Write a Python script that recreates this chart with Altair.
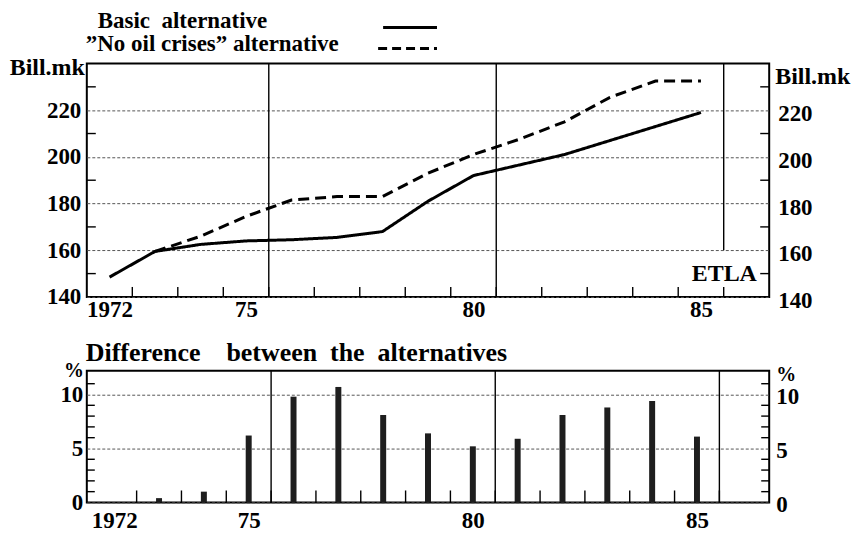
import altair as alt
import pandas as pd

# ---------------- data ----------------
years = list(range(1972, 1986))
basic = [148.5, 159.5, 162.5, 164.0, 164.5, 165.5, 168.0, 181.0, 192.0, 196.5, 201.0, 207.0, 213.0, 219.0]
no_oil_years = list(range(1973, 1986))
no_oil = [159.5, 166.0, 174.5, 181.5, 183.0, 183.0, 193.0, 201.0, 207.5, 215.0, 225.5, 232.5, 232.5]
diff_years = list(range(1973, 1986))
diff = [0.4, 1.0, 6.2, 9.8, 10.7, 8.1, 6.4, 5.2, 5.9, 8.1, 8.8, 9.4, 6.1]

x_labels = [1972, 1975, 1980, 1985]
half_years = [1972.5 + i for i in range(14)]
vline_x = [1975.5, 1980.5, 1985.5]
vline_bottom_top = [140, 140, 160]

top_ticks = [140, 160, 180, 200, 220]
top_minor = [150, 170, 190, 210, 230]
bot_ticks = [0, 5, 10]
bot_minor = [1, 2, 3, 4, 6, 7, 8, 9, 11]

FONT = "Liberation Serif"
W = 684
H1 = 234
H2 = 132

xscale = alt.Scale(domain=[1971.5, 1986.5], nice=False, zero=False)
y1 = alt.Scale(domain=[140, 240], nice=False, zero=False)
y2 = alt.Scale(domain=[0, 12.2], nice=False, zero=False)

label_expr = "datum.value == 1972 ? '1972' : substring(toString(datum.value), 2, 4)"


def xaxis(pad):
    return alt.Axis(values=x_labels, labelExpr=label_expr, grid=False, ticks=False, tickSize=0,
                    domain=False, labelFont=FONT, labelFontSize=23, labelFontWeight="bold",
                    labelColor="black", labelPadding=pad, title=None, labelFlush=False)


def yaxis(vals, pad):
    return alt.Axis(values=vals, grid=True, gridColor="#555555", gridDash=[3, 2], gridWidth=1,
                    ticks=False, tickSize=0, domain=False, labelFont=FONT, labelFontSize=23,
                    labelFontWeight="bold", labelColor="black", labelPadding=pad, title=None,
                    labelFlush=False)


XA1 = xaxis(2)
YA1 = yaxis(top_ticks, 6)
XA2 = xaxis(7)
YA2 = yaxis(bot_ticks, 4)


def txt(text, x, y, size=24, align="left", baseline="alphabetic"):
    return alt.Chart(pd.DataFrame({"t": [text]})).mark_text(
        align=align, baseline=baseline, font=FONT, fontSize=size, fontWeight="bold", color="black"
    ).encode(x=alt.value(x), y=alt.value(y), text="t:N")


one = pd.DataFrame({"k": [0]})

# ---------------- top panel ----------------
lines_df = pd.DataFrame({
    "year": years + no_oil_years,
    "value": basic + no_oil,
    "series": ["Basic"] * len(years) + ["No oil"] * len(no_oil_years),
})

lines = alt.Chart(lines_df).mark_line(color="black", strokeWidth=3).encode(
    x=alt.X("year:Q", scale=xscale, axis=XA1),
    y=alt.Y("value:Q", scale=y1, axis=YA1),
    strokeDash=alt.StrokeDash("series:N", scale=alt.Scale(domain=["Basic", "No oil"],
                                                          range=[[1, 0], [11, 6]]), legend=None),
)

vrules1 = alt.Chart(pd.DataFrame({"year": vline_x, "value": [240] * 3, "y2": vline_bottom_top})).mark_rule(
    color="black", strokeWidth=1.4).encode(
    x=alt.X("year:Q", scale=xscale, axis=XA1),
    y=alt.Y("value:Q", scale=y1, axis=YA1), y2="y2:Q")

hticks1 = alt.Chart(pd.DataFrame({"year": half_years})).mark_rule(color="black", strokeWidth=1.4).encode(
    x=alt.X("year:Q", scale=xscale, axis=XA1), y=alt.value(H1), y2=alt.value(H1 - 10))

lminor1 = alt.Chart(pd.DataFrame({"value": top_minor})).mark_rule(color="black", strokeWidth=1.4).encode(
    y=alt.Y("value:Q", scale=y1, axis=YA1), x=alt.value(0), x2=alt.value(9))
rminor1 = alt.Chart(pd.DataFrame({"value": top_minor})).mark_rule(color="black", strokeWidth=1.4).encode(
    y=alt.Y("value:Q", scale=y1, axis=YA1), x=alt.value(W - 9), x2=alt.value(W))

rlabels1 = alt.Chart(pd.DataFrame({"value": top_ticks})).mark_text(
    align="left", baseline="middle", dy=4, font=FONT, fontSize=23, fontWeight="bold", color="black"
).encode(y=alt.Y("value:Q", scale=y1, axis=YA1), x=alt.value(W + 9), text=alt.Text("value:Q"))

leg_solid = alt.Chart(one).mark_rule(color="black", strokeWidth=3).encode(
    x=alt.value(297), x2=alt.value(351), y=alt.value(-36))
leg_dash = alt.Chart(one).mark_rule(color="black", strokeWidth=3, strokeDash=[9, 5]).encode(
    x=alt.value(292), x2=alt.value(351), y=alt.value(-15))

top = alt.layer(
    lines, vrules1, hticks1, lminor1, rminor1, rlabels1, leg_solid, leg_dash,
    txt("Basic\u00a0\u00a0alternative", 11, -36, size=23),
    txt("\u201dNo oil crises\u201d alternative", -1, -13, size=23),
    txt("Bill.mk", -2, 12, align="right"),
    txt("Bill.mk", W + 6, 21),
    txt("ETLA", 639, 218, align="center"),
).properties(width=W, height=H1)

# ---------------- bottom panel ----------------
bars = alt.Chart(pd.DataFrame({"year": diff_years, "diff": diff})).mark_bar(size=6, color="#1e1e1e").encode(
    x=alt.X("year:Q", scale=xscale, axis=XA2),
    y=alt.Y("diff:Q", scale=y2, axis=YA2),
)

vrules2 = alt.Chart(pd.DataFrame({"year": vline_x})).mark_rule(color="black", strokeWidth=1.4).encode(
    x=alt.X("year:Q", scale=xscale, axis=XA2), y=alt.value(0), y2=alt.value(H2))

hticks2 = alt.Chart(pd.DataFrame({"year": half_years})).mark_rule(color="black", strokeWidth=1.4).encode(
    x=alt.X("year:Q", scale=xscale, axis=XA2), y=alt.value(H2), y2=alt.value(H2 - 12))

lminor2 = alt.Chart(pd.DataFrame({"diff": bot_minor})).mark_rule(color="black", strokeWidth=1.4).encode(
    y=alt.Y("diff:Q", scale=y2, axis=YA2), x=alt.value(0), x2=alt.value(8))
rminor2 = alt.Chart(pd.DataFrame({"diff": bot_minor})).mark_rule(color="black", strokeWidth=1.4).encode(
    y=alt.Y("diff:Q", scale=y2, axis=YA2), x=alt.value(W - 8), x2=alt.value(W))

rlabels2 = alt.Chart(pd.DataFrame({"diff": bot_ticks})).mark_text(
    align="left", baseline="middle", dy=3, font=FONT, fontSize=23, fontWeight="bold", color="black"
).encode(y=alt.Y("diff:Q", scale=y2, axis=YA2), x=alt.value(W + 7), text=alt.Text("diff:Q"))

bottom = alt.layer(
    bars, vrules2, hticks2, lminor2, rminor2, rlabels2,
    txt("Difference\u00a0\u00a0\u00a0\u00a0between\u00a0\u00a0the\u00a0\u00a0alternatives", -1, -10, size=26),
    txt("%", -3, 6, size=20, align="right"),
    txt("%", W + 7, 10, size=20),
).properties(width=W, height=H2)

chart = alt.vconcat(top, bottom, spacing=74, bounds="flush").properties(
    padding=0, background="white"
).configure_view(stroke="black", strokeWidth=2)

chart.save("out.html", embed_options={"renderer": "svg", "actions": False})
